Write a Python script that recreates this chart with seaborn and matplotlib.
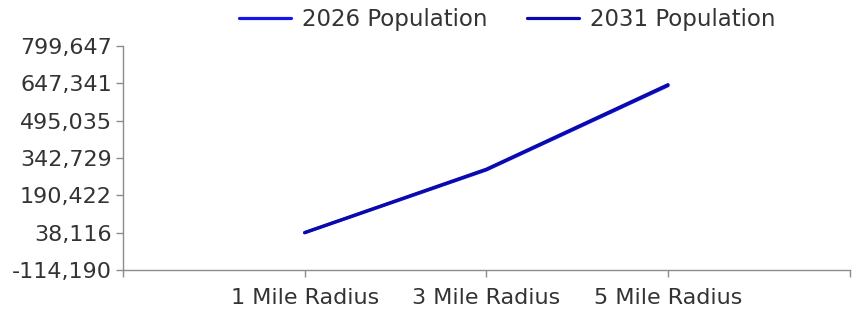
import matplotlib
matplotlib.use('Agg')
import matplotlib.pyplot as plt
import numpy as np
import pandas as pd
import seaborn as sns

# data
radius = ['1 Mile Radius', '3 Mile Radius', '5 Mile Radius']
pop_2026 = [37500, 294000, 638000]
pop_2031 = [38500, 297000, 642000]
series_names = ['2026 Population', '2031 Population']
series_colors = ['#1414F0', '#0A0AA8']
y_tick_labels = ['-114,190', '38,116', '190,422', '342,729',
                 '495,035', '647,341', '799,647']
y_min, y_max = -114190, 799647

sns.set_style('white')
plt.rcParams['font.family'] = ['DejaVu Sans']

df = pd.DataFrame({
    'radius': radius * 2,
    'population': pop_2026 + pop_2031,
    'series': [series_names[0]] * 3 + [series_names[1]] * 3,
})

fig = plt.figure(figsize=(8.54, 3.11), dpi=100)
ax = fig.add_axes([0.144, 0.132, 0.851, 0.720])

sns.lineplot(data=df, x='radius', y='population', hue='series',
             palette=dict(zip(series_names, series_colors)),
             linewidth=2.3, sort=False, ax=ax, legend=True)

text_color = '#333333'
ax.set_xlim(-1, 3)
ax.set_ylim(y_min, y_max)
ax.set_yticks(np.linspace(y_min, y_max, len(y_tick_labels)))
ax.set_yticklabels(y_tick_labels)
ax.set_xticks([-1, 3], minor=True)
ax.set_xlabel('')
ax.set_ylabel('')

for side in ['top', 'right']:
    ax.spines[side].set_visible(False)
for side in ['left', 'bottom']:
    ax.spines[side].set_color('#8c8c8c')
    ax.spines[side].set_linewidth(1.0)
ax.tick_params(axis='both', which='both', direction='out', colors='#8c8c8c',
               labelcolor=text_color, labelsize=16, length=5, width=1,
               bottom=True, left=True)
ax.tick_params(axis='x', pad=8)
ax.tick_params(axis='y', pad=3)

handles, labels = ax.get_legend_handles_labels()
ax.get_legend().remove()
fig.legend(handles, labels, loc='center', bbox_to_anchor=(0.594, 0.936),
           ncol=2, frameon=False, fontsize=16.5, handlelength=2.25,
           handletextpad=0.48, columnspacing=1.75, labelcolor=text_color)

fig.savefig('out.png', dpi=100)
plt.close(fig)
